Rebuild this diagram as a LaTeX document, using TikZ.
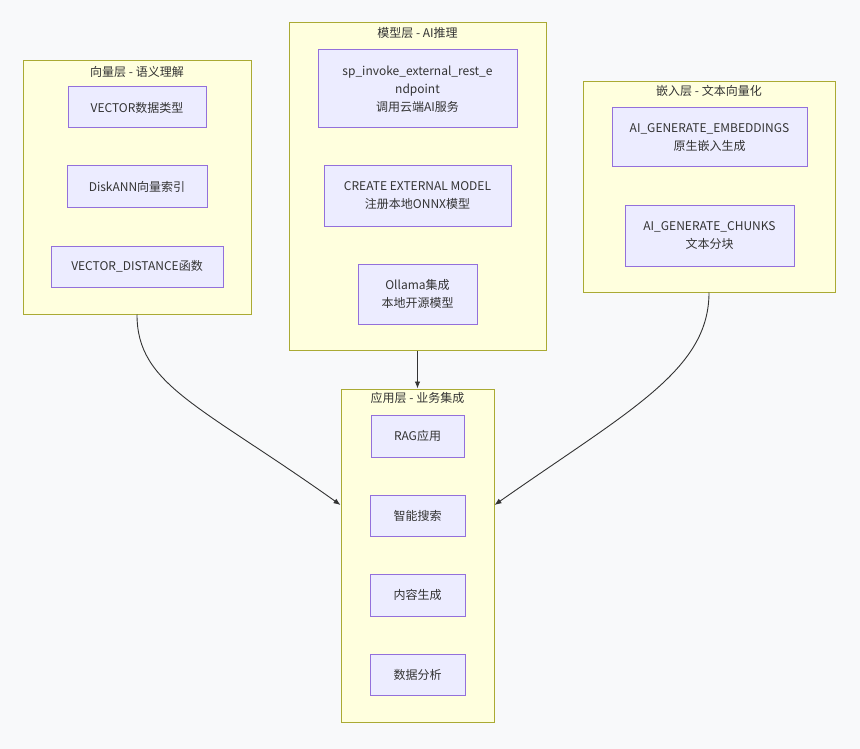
\documentclass[tikz,border=0pt]{standalone}
\usepackage{fontspec}
\setmainfont{Noto Sans CJK SC}
\usetikzlibrary{arrows.meta}
\definecolor{bgc}{HTML}{F8F9FA}
\definecolor{clfill}{HTML}{FFFFDE}
\definecolor{cldraw}{HTML}{AAAA33}
\definecolor{ndfill}{HTML}{ECECFF}
\definecolor{nddraw}{HTML}{9370DB}
\definecolor{txt}{HTML}{333333}
\tikzset{
  cluster/.style={draw=cldraw, fill=clfill, line width=1pt, inner sep=0pt},
  ctitle/.style={text=txt, font=\fontsize{12}{14}\selectfont, inner sep=0pt},
  nbox/.style={draw=nddraw, fill=ndfill, line width=1pt, inner sep=0pt, align=center,
    text=txt, font=\fontsize{12}{18}\selectfont},
  link/.style={draw=txt, line width=0.9pt, -{Latex[length=7pt,width=5.5pt]}}
}
\begin{document}
\begin{tikzpicture}[x=1pt,y=-1pt]
\useasboundingbox (0,0) rectangle (860,749);
\fill[bgc] (0,0) rectangle (860,749);
% clusters
\node[cluster, minimum width=228pt, minimum height=253pt] (c1) at (137,187.5) {};
\node[ctitle] (t1) at (137,72) {向量层 - 语义理解};
\node[cluster, minimum width=257pt, minimum height=327pt] (c2) at (417.5,186.5) {};
\node[ctitle] (t2) at (417.5,33) {模型层 - AI推理};
\node[cluster, minimum width=252pt, minimum height=210pt] (c3) at (709,187) {};
\node[ctitle] (t3) at (709,91) {嵌入层 - 文本向量化};
\node[cluster, minimum width=153pt, minimum height=333pt] (c4) at (417.5,555.5) {};
\node[ctitle] (t4) at (417.5,398) {应用层 - 业务集成};
% vector layer
\node[nbox, minimum width=138pt, minimum height=41pt] (n1) at (137,107.5) {VECTOR数据类型};
\node[nbox, minimum width=140pt, minimum height=42pt] (n2) at (137,187) {DiskANN向量索引};
\node[nbox, minimum width=172pt, minimum height=41pt] (n3) at (137,266.5) {VECTOR\_DISTANCE函数};
% model layer
\node[nbox, minimum width=199pt, minimum height=78pt] (m1) at (417.5,89) {sp\_invoke\_external\_rest\_e\\ndpoint\\调用云端AI服务};
\node[nbox, minimum width=187pt, minimum height=60pt] (m2) at (417.5,196) {CREATE EXTERNAL MODEL\\注册本地ONNX模型};
\node[nbox, minimum width=119pt, minimum height=60pt] (m3) at (417.5,294) {Ollama集成\\本地开源模型};
% embedding layer
\node[nbox, minimum width=195pt, minimum height=59pt] (e1) at (709.5,137.5) {AI\_GENERATE\_EMBEDDINGS\\原生嵌入生成};
\node[nbox, minimum width=169pt, minimum height=60pt] (e2) at (709.5,236) {AI\_GENERATE\_CHUNKS\\文本分块};
% application layer
\node[nbox, minimum width=93pt, minimum height=42pt] (a1) at (417.5,436) {RAG应用};
\node[nbox, minimum width=95pt, minimum height=41pt] (a2) at (417.5,515.5) {智能搜索};
\node[nbox, minimum width=95pt, minimum height=42pt] (a3) at (417.5,595) {内容生成};
\node[nbox, minimum width=95pt, minimum height=41pt] (a4) at (417.5,674.5) {数据分析};
% connectors
\draw[link] (c1.south) .. controls (137,385) and (200,405) .. ([yshift=50.5pt]c4.west);
\draw[link] (c2.south) -- (c4.north);
\draw[link] (c3.south) .. controls (709,370) and (630,410) .. ([yshift=50.5pt]c4.east);
\end{tikzpicture}
\end{document}
